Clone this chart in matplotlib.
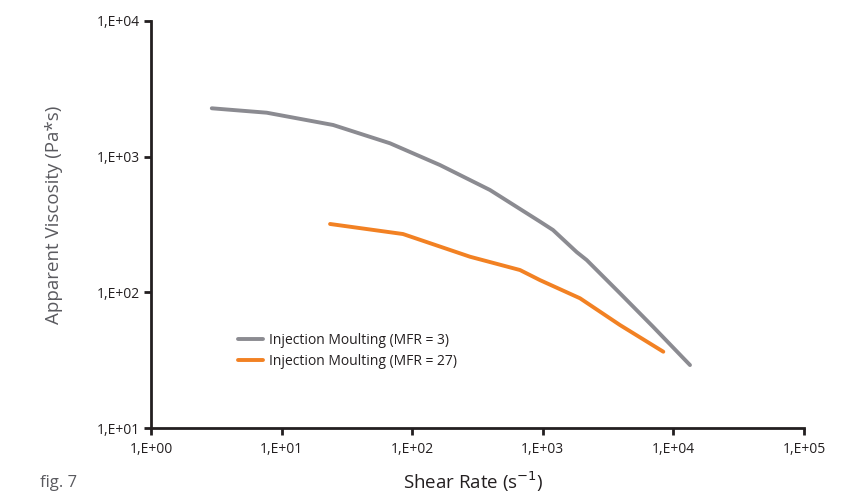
import matplotlib
matplotlib.use("Agg")
import matplotlib.pyplot as plt

# Data
mfr3_x = [2.92, 7.69, 24.8, 67.6, 163, 394, 952, 1197, 1818, 2168, 3899, 6982, 13400]
mfr3_y = [2273, 2109, 1712, 1255, 868, 568, 332, 288, 198, 173, 98.4, 55.8, 29.1]
mfr27_x = [23.5, 85, 277, 669, 952, 1927, 3899, 8370]
mfr27_y = [319, 269, 183, 146, 123, 90.4, 57.4, 36.5]

x_ticks = [1, 10, 100, 1000, 10000, 100000]
x_labels = ["1,E+00", "1,E+01", "1,E+02", "1,E+03", "1,E+04", "1,E+05"]
y_ticks = [10, 100, 1000, 10000]
y_labels = ["1,E+01", "1,E+02", "1,E+03", "1,E+04"]

plt.rcParams['font.family'] = ['Open Sans', 'DejaVu Sans']

fig = plt.figure(figsize=(8.66, 4.96), dpi=100)
ax = fig.add_axes([151/866, 1-428/496, (804-151)/866, (428-21)/496])

grey = "#8b8b91"
orange = "#f28123"
ax.plot(mfr3_x, mfr3_y, color=grey, lw=2.8, solid_capstyle='round',
        solid_joinstyle='round', label="Injection Moulting (MFR = 3)")
ax.plot(mfr27_x, mfr27_y, color=orange, lw=2.8, solid_capstyle='round',
        solid_joinstyle='round', label="Injection Moulting (MFR = 27)")

ax.set_xscale('log')
ax.set_yscale('log')
ax.set_xlim(1, 100000)
ax.set_ylim(10, 10000)
ax.set_xticks(x_ticks, x_labels)
ax.set_yticks(y_ticks, y_labels)
ax.xaxis.set_minor_locator(matplotlib.ticker.NullLocator())
ax.yaxis.set_minor_locator(matplotlib.ticker.NullLocator())

for s in ['top', 'right']:
    ax.spines[s].set_visible(False)
for s in ['left', 'bottom']:
    ax.spines[s].set_linewidth(2.0)
    ax.spines[s].set_color('#231f20')
ax.tick_params(axis='both', direction='out', length=5, width=2.0, color='#231f20',
               labelsize=10, labelcolor='#231f20', pad=3)
ax.tick_params(axis='x', pad=5)

fig.text(54/866, 1-215/496, "Apparent Viscosity (Pa*s)", fontsize=13.5, color='#5a5a5f',
         rotation=90, ha='center', va='center')
fig.text(473/866, 1-482/496, "Shear Rate (s$^{-1}$)", fontsize=13.5, color='#231f20',
         ha='center', va='center')

leg = ax.legend(loc='upper left', bbox_to_anchor=(0.114, 0.265), frameon=False,
                fontsize=10, handlelength=1.8, handletextpad=0.45, labelspacing=0.45)
for t in leg.get_texts():
    t.set_color('#231f20')

fig.text(40/866, 1-483/496, "fig. 7", fontsize=12, color='#5a5a5f', va='center')

fig.savefig("out.png", dpi=100)
